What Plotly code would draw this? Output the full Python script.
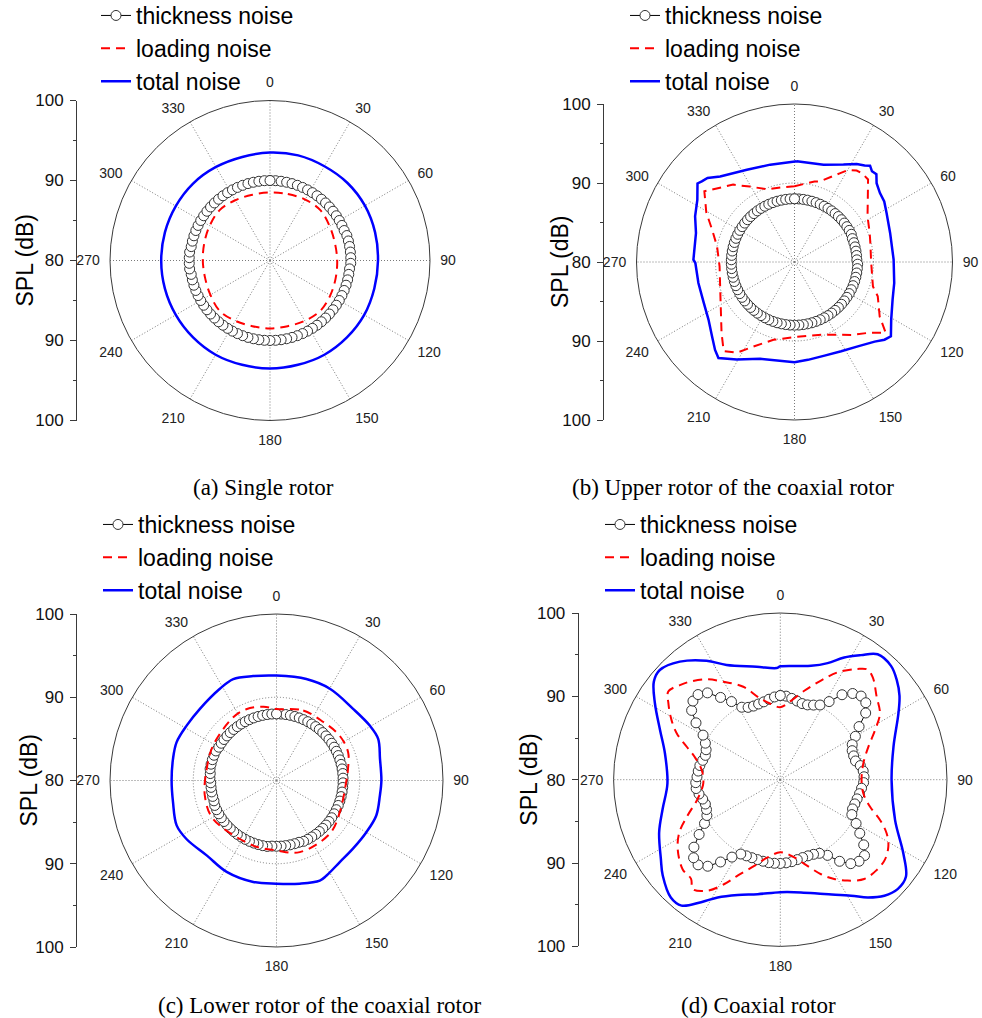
import plotly.graph_objects as go

W, H = 982, 1018

# ---------------------------------------------------------------------------
# Data: SPL (dB) versus azimuth (deg, clockwise from 0 at the top)
# ---------------------------------------------------------------------------
MARKER_ANGLES = list(range(0, 360, 4))          # thickness-noise sample azimuths
ANGLE_TICKS = [0, 30, 60, 90, 120, 150, 180, 210, 240, 270, 300, 330]
SPL_TICK_OFFSETS = [20, 10, 0, -10, -20]         # mirrored radial scale (dB from centre)
SPL_TICK_LABELS = ["100", "90", "80", "90", "100"]
SPL_MINOR_OFFSETS = [15, 5, -5, -15]
SPL_RANGE = [80, 100]

SERIES_NAMES = ["thickness noise", "loading noise", "total noise"]
CAPTIONS = ["(a) Single rotor", "(b) Upper rotor of the coaxial rotor",
            "(c) Lower rotor of the coaxial rotor", "(d) Coaxial rotor"]

# (a) single rotor
A_THICK = [90.0, 90.0, 90.0, 90.0, 90.0, 90.0, 90.0, 90.0, 90.0, 90.0,
           90.0, 90.0, 90.0, 90.0, 90.0, 90.0, 90.0, 90.0, 90.1, 90.1,
           90.1, 90.1, 90.1, 90.1, 90.0, 90.0, 90.0, 90.0, 90.0, 90.0,
           90.0, 90.0, 90.0, 90.0, 90.0, 90.0, 90.0, 90.0, 90.0, 90.0,
           90.0, 90.0, 90.0, 90.0, 90.0, 90.0, 90.0, 90.0, 90.0, 90.0,
           90.0, 90.0, 90.0, 90.0, 90.0, 90.0, 90.0, 90.0, 90.0, 90.0,
           90.0, 90.0, 90.0, 90.0, 90.0, 90.0, 90.1, 90.1, 90.1, 90.1,
           90.0, 90.0, 90.0, 90.0, 90.0, 90.0, 90.0, 90.0, 90.0, 90.0,
           90.0, 90.0, 90.0, 90.0, 90.0, 90.0, 90.0, 90.0, 90.0, 90.0]
A_LINE_THETA = [0, 15, 30, 45, 60, 75, 90, 105, 120, 135, 150, 165,
                180, 195, 210, 225, 240, 255, 270, 285, 300, 315, 330, 345]
A_LOAD = [88.5, 88.6, 88.8, 88.9, 88.6, 88.4, 88.4, 88.5, 88.7, 88.9, 88.7, 88.5,
          88.5, 88.5, 88.7, 88.9, 88.6, 88.4, 88.4, 88.5, 88.7, 88.9, 88.7, 88.5]
A_TOTAL = [93.5, 93.6, 93.6, 93.7, 93.7, 93.6, 93.5, 93.5, 93.6, 93.6, 93.6, 93.5,
           93.5, 93.5, 93.6, 93.6, 93.6, 93.6, 93.6, 93.6, 93.6, 93.6, 93.5, 93.4]

# (b) upper rotor of the coaxial rotor
B_THICK = [88.0, 88.0, 88.0, 88.0, 88.0, 88.0, 88.0, 88.0, 88.0, 88.0,
           88.0, 88.0, 88.0, 88.0, 88.0, 88.0, 88.0, 87.9, 87.9, 87.9,
           87.9, 87.9, 87.9, 88.0, 88.0, 88.0, 88.0, 88.0, 88.0, 88.0,
           88.0, 88.0, 88.0, 88.0, 88.0, 88.0, 88.0, 88.0, 88.0, 88.0,
           88.0, 88.0, 88.0, 88.0, 88.0, 88.0, 88.0, 88.0, 88.0, 88.0,
           88.0, 88.0, 88.0, 88.0, 88.0, 88.0, 88.0, 88.0, 88.0, 88.0,
           88.0, 88.0, 88.0, 88.0, 88.0, 88.0, 88.0, 88.0, 88.0, 88.0,
           88.0, 88.0, 88.0, 88.0, 88.0, 88.0, 88.0, 88.0, 88.0, 88.0,
           88.0, 88.0, 88.0, 88.0, 88.0, 88.0, 88.0, 88.0, 88.0, 88.0]
B_LOAD_THETA = [0, 13.9, 17.6, 27, 30.3, 34.2, 37.5, 41.7, 49.5, 58, 68.9, 75.9,
                90, 107.3, 112.4, 122.6, 127.8, 134.1, 142.1, 159.9, 180, 195.1,
                205.9, 212.4, 218.5, 225.7, 243.1, 266.7, 281.4, 291.4, 299.3,
                308.1, 321.6, 329.3, 339.8, 350]
B_LOAD = [89.6, 90.5, 90.7, 92.6, 93.5, 94.0, 94.1, 94.0, 92.2, 90.9, 90.2, 89.9,
          89.7, 90.4, 91.4, 92.8, 94.6, 92.9, 91.7, 89.8, 89.5, 90.2,
          91.9, 93.6, 94.4, 92.9, 90.5, 89.5, 90.0, 91.2, 92.8,
          94.5, 92.5, 91.1, 89.8, 89.6]
B_TOTAL_THETA = [1.3, 16.6, 26.7, 32.4, 36.0, 38.1, 40.5, 43.0, 46.2, 51.1, 56.0,
                 62.0, 73.1, 88.6, 101.9, 111, 120.8, 127.6, 130.8, 134.8, 143.1,
                 152.4, 162.2, 172.2, 180, 199.5, 210.6, 218.4, 222.1, 228,
                 236.2, 245.7, 257.7, 269.4, 271.3, 286.4, 294.7, 302.6, 309,
                 311, 314, 319, 332.7, 346]
B_TOTAL = [92.75, 92.86, 93.8, 94.7, 95.1, 95.5, 95.1, 95.2, 94.4, 93.9, 93.7,
           93.2, 92.65, 92.55, 92.9, 93.3, 94.25, 95.4, 95.05, 94.3, 93.35,
           92.75, 92.45, 92.5, 92.7, 93.0, 94.35, 95.5, 95.0, 94.05,
           93.1, 92.6, 92.45, 92.55, 92.8, 93.0, 93.85, 94.6, 95.8,
           95.55, 95.3, 94.35, 93.15, 92.7]

# (c) lower rotor of the coaxial rotor
C_THICK = [88.0, 88.0, 88.0, 88.0, 88.0, 88.0, 88.0, 88.0, 88.0, 88.0,
           88.0, 88.0, 88.0, 88.0, 88.0, 88.0, 88.0, 88.0, 88.0, 88.0,
           88.0, 88.0, 88.0, 88.0, 88.0, 88.0, 88.0, 88.0, 88.0, 88.0,
           88.0, 88.0, 88.0, 88.0, 88.0, 88.0, 88.0, 88.0, 88.0, 88.0,
           87.9, 87.9, 87.9, 87.9, 87.9, 87.9, 87.9, 88.0, 88.0, 88.0,
           88.0, 88.0, 88.0, 88.0, 88.0, 88.0, 88.0, 88.0, 88.0, 88.0,
           88.0, 88.0, 88.0, 87.9, 87.9, 87.9, 87.9, 87.9, 88.0, 88.0,
           88.1, 88.1, 88.1, 88.1, 88.1, 88.0, 88.0, 88.0, 88.0, 88.0,
           88.0, 88.0, 88.0, 88.0, 88.0, 88.0, 88.0, 88.0, 88.0, 88.0]
C_LOAD_THETA = [0, 20.9, 38.7, 54.6, 68.4, 80.8, 90, 116.6, 135, 162, 180, 199.7,
                238.8, 258, 279.5, 299, 325.6, 337, 350]
C_LOAD = [88.6, 89.0, 89.0, 89.3, 89.25, 88.7, 88.4, 88.5, 89.05, 89.05, 88.4, 88.3,
          88.9, 88.8, 88.5, 88.7, 89.2, 89.3, 89.0]
C_TOTAL_THETA = [0, 16.4, 30.2, 46.9, 59.5, 67.7, 78.2, 90, 98.3, 109.3, 119.9,
                 131.7, 142.2, 152.2, 156.6, 167.3, 180, 192.9, 208.6, 223, 237,
                 245.8, 258.2, 270, 281.8, 291, 301.4, 313.1, 328.3, 336.9, 347.4]
C_TOTAL = [92.6, 92.7, 92.75, 92.6, 93.0, 93.2, 92.7, 92.6, 92.55, 92.7, 92.45,
           92.3, 92.4, 92.9, 93.1, 92.7, 92.4, 92.5, 92.5, 92.3, 92.9,
           93.15, 92.7, 92.6, 92.7, 92.85, 92.65, 92.6, 92.95, 93.25, 92.85]

# (d) coaxial rotor
D_THICK = [90.1, 90.05, 89.85, 89.65, 89.5, 89.55, 89.8, 90.15, 91.05, 92.6,
           93.5, 93.95, 93.8, 93.0, 91.4, 90.4, 89.6, 89.3, 89.25, 89.3,
           89.75, 90.0, 90.05,
           90.0, 89.8, 89.65, 89.5, 89.4, 89.35, 89.55, 90.5, 91.5, 92.7,
           93.6, 93.6, 93.15, 92.1, 90.7, 90.0, 89.8, 89.72, 89.72, 89.8,
           89.93, 90.0,
           90.05, 90.05, 90.05, 90.0, 89.97, 89.96, 90.0, 90.1, 90.95, 92.2,
           93.55, 94.2, 94.0, 93.15, 91.75, 90.5, 89.8, 89.55, 89.45, 89.6,
           89.9, 90.15, 90.15,
           90.0, 89.9, 89.8, 89.6, 89.45, 89.6, 90.0, 90.7, 92.2, 93.5,
           94.1, 94.2, 93.6, 92.2, 91.05, 89.85, 89.5, 89.4, 89.45, 89.55,
           89.75, 89.95]
D_LOAD_THETA = [0, 7.7, 15.1, 22.3, 28.1, 34.9, 38.4, 42.1, 49.3, 56.4, 62.3, 69.4,
                78.9, 90, 99.4, 106.8, 112, 116.8, 121.8, 127.5, 133.2, 139.8,
                146.3, 151.5, 156.7, 164.1, 172, 180, 189.3, 196.8, 204, 208.2,
                213.2, 218.7, 222, 227.5, 236, 242.5, 248.8, 256.8, 267.3, 277,
                285, 289.4, 294.1, 298.8, 304.3, 308.2, 313.3, 317.3, 323.7,
                329.8, 338.3, 346, 353]
D_LOAD = [88.7, 89.55, 91.05, 92.85, 94.6, 96.2, 96.85, 96.55, 95.25, 94.35, 92.85, 91.3,
          90.15, 89.75, 90.1, 91.25, 92.9, 94.3, 95.25, 95.8, 95.85, 95.6,
          94.55, 93.55, 92.35, 90.5, 89.2, 88.7, 89.45, 90.8, 92.6, 94.2,
          95.9, 96.8, 96.0, 95.9, 94.85, 93.65, 91.95, 90.2, 89.25, 89.5,
          90.65, 91.9, 93.6, 94.9, 96.25, 97.1, 96.55, 96.0, 94.95,
          93.6, 92.0, 90.05, 89.15]
D_TOTAL_THETA = [0, 15.1, 22.1, 27.6, 32.9, 37.8, 44.2, 49.4, 54.8, 60.7, 73.7,
                 90.2, 109.4, 120.9, 127.7, 133, 138.1, 143.4, 148.6, 159, 169.6,
                 180, 191.2, 200.3, 208, 212.9, 218.1, 222.9, 230.8, 236.4, 246.5,
                 256, 268.1, 282.9, 292.4, 301.3, 307.8, 312.3, 319.6, 328.2,
                 334.9, 348.2, 358.1]
D_TOTAL = [93.6, 94.15, 95.1, 96.55, 97.8, 99.05, 99.05, 98.4, 97.5, 96.25, 94.15,
           93.35, 94.6, 97.2, 99.05, 99.25, 98.7, 97.6, 96.3, 94.7, 93.75,
           93.5, 94.0, 94.75, 96.0, 97.5, 99.2, 99.3, 98.2, 97.2, 95.85,
           94.55, 93.55, 94.2, 95.6, 97.6, 99.2, 99.55, 98.6, 96.8,
           95.2, 93.85, 93.4]

PANELS = [
    (MARKER_ANGLES, A_THICK, A_LINE_THETA, A_LOAD, A_LINE_THETA, A_TOTAL),
    (MARKER_ANGLES, B_THICK, B_LOAD_THETA, B_LOAD, B_TOTAL_THETA, B_TOTAL),
    (MARKER_ANGLES, C_THICK, C_LOAD_THETA, C_LOAD, C_TOTAL_THETA, C_TOTAL),
    (MARKER_ANGLES, D_THICK, D_LOAD_THETA, D_LOAD, D_TOTAL_THETA, D_TOTAL),
]

# ---------------------------------------------------------------------------
# Page layout (pixels): polar centre/radius, SPL axis line, labels, legend
# ---------------------------------------------------------------------------
GEOM = [
    dict(cx=270.0, cy=260.5, R=160.0, axis_x=77.0, title_x=25, leg=(96, -6),
         cap=(263.5, 488), shape="spline"),
    dict(cx=794.5, cy=262.0, R=158.0, axis_x=604.0, title_x=560, leg=(625, -6),
         cap=(732.7, 487), shape="linear"),
    dict(cx=276.5, cy=780.5, R=166.5, axis_x=77.0, title_x=28, leg=(98, 503),
         cap=(319.7, 1005), shape="spline"),
    dict(cx=780.3, cy=779.7, R=166.7, axis_x=578.7, title_x=529, leg=(600, 503),
         cap=(758.5, 1005), shape="spline"),
]

SANS = "Liberation Sans, Arial, sans-serif"
SERIF = "Liberation Serif, Times New Roman, serif"
AXIS_COLOR = "#3a3a3a"
GRID_COLOR = "#7a7a7a"


def closed(seq):
    return list(seq) + [seq[0]]


fig = go.Figure()
annotations = []

for i, (geom, panel) in enumerate(zip(GEOM, PANELS)):
    n = "" if i == 0 else str(i + 1)
    polar_id = "polar" + n
    legend_id = "legend" + n
    th_t, th_r, ld_t, ld_r, tt_t, tt_r = panel

    fig.add_trace(go.Scatterpolar(
        theta=closed(th_t), r=closed(th_r), name=SERIES_NAMES[0],
        mode="lines+markers", subplot=polar_id, legend=legend_id,
        line=dict(color="black", width=1),
        marker=dict(symbol="circle", size=10, color="white",
                    line=dict(color="#333333", width=1)),
    ))
    fig.add_trace(go.Scatterpolar(
        theta=closed(ld_t), r=closed(ld_r), name=SERIES_NAMES[1],
        mode="lines", subplot=polar_id, legend=legend_id,
        line=dict(color="#ff0000", width=2, dash="9px,6px", shape=geom["shape"]),
    ))
    fig.add_trace(go.Scatterpolar(
        theta=closed(tt_t), r=closed(tt_r), name=SERIES_NAMES[2],
        mode="lines", subplot=polar_id, legend=legend_id,
        line=dict(color="#0000ff", width=2.5, shape=geom["shape"]),
    ))

    cx, cy, R = geom["cx"], geom["cy"], geom["R"]
    xdom = [(cx - R) / W, (cx + R) / W]
    ydom = [1 - (cy + R) / H, 1 - (cy - R) / H]

    fig.update_layout({
        polar_id: dict(
            domain=dict(x=xdom, y=ydom),
            bgcolor="white",
            radialaxis=dict(range=SPL_RANGE, tickvals=[90], showticklabels=False,
                            ticks="", showline=False, gridcolor=GRID_COLOR,
                            griddash="1px,2px", gridwidth=1, layer="below traces"),
            angularaxis=dict(rotation=90, direction="clockwise",
                             tickvals=ANGLE_TICKS, ticktext=[str(a) for a in ANGLE_TICKS],
                             ticks="outside", ticklen=7, tickcolor="rgba(0,0,0,0)",
                             showline=True, linecolor=AXIS_COLOR, linewidth=1,
                             gridcolor=GRID_COLOR, griddash="1px,2px", gridwidth=1,
                             tickfont=dict(family=SANS, size=14, color="#222222"),
                             layer="below traces"),
        ),
        # mirrored SPL scale drawn beside each polar plot
        "xaxis" + n: dict(domain=[geom["axis_x"] / W, geom["axis_x"] / W + 0.002],
                          anchor="y" + n, visible=False, range=[0, 1], fixedrange=True),
        "yaxis" + n: dict(domain=ydom, anchor="x" + n, range=[-20, 20],
                          tickvals=SPL_TICK_OFFSETS, ticktext=SPL_TICK_LABELS,
                          ticks="outside", ticklen=6, tickcolor=AXIS_COLOR,
                          showline=True, linecolor=AXIS_COLOR, linewidth=1,
                          showgrid=False, zeroline=False, ticklabelstandoff=3,
                          tickfont=dict(family=SANS, size=17, color="#111111"),
                          minor=dict(tickvals=SPL_MINOR_OFFSETS, ticks="outside",
                                     ticklen=3, tickcolor=AXIS_COLOR),
                          fixedrange=True),
        legend_id: dict(x=geom["leg"][0] / W, y=1 - geom["leg"][1] / H,
                        xanchor="left", yanchor="top", bgcolor="rgba(0,0,0,0)",
                        font=dict(family=SANS, size=23, color="black"),
                        tracegroupgap=0),
    })
    fig.add_trace(go.Scatter(x=[], y=[], xaxis="x" + n, yaxis="y" + n,
                             showlegend=False, hoverinfo="skip"))

    annotations.append(dict(
        text="SPL (dB)", x=geom["title_x"] / W, y=1 - cy / H, xref="paper", yref="paper",
        textangle=-90, showarrow=False, xanchor="center", yanchor="middle",
        font=dict(family=SANS, size=23, color="black")))
    annotations.append(dict(
        text=CAPTIONS[i], x=geom["cap"][0] / W, y=1 - geom["cap"][1] / H,
        xref="paper", yref="paper", showarrow=False, xanchor="center", yanchor="middle",
        font=dict(family=SERIF, size=23, color="black")))

fig.update_layout(
    width=W, height=H,
    margin=dict(l=0, r=0, t=0, b=0, autoexpand=False),
    paper_bgcolor="white", plot_bgcolor="white",
    annotations=annotations,
)

fig.write_html("out.html")
